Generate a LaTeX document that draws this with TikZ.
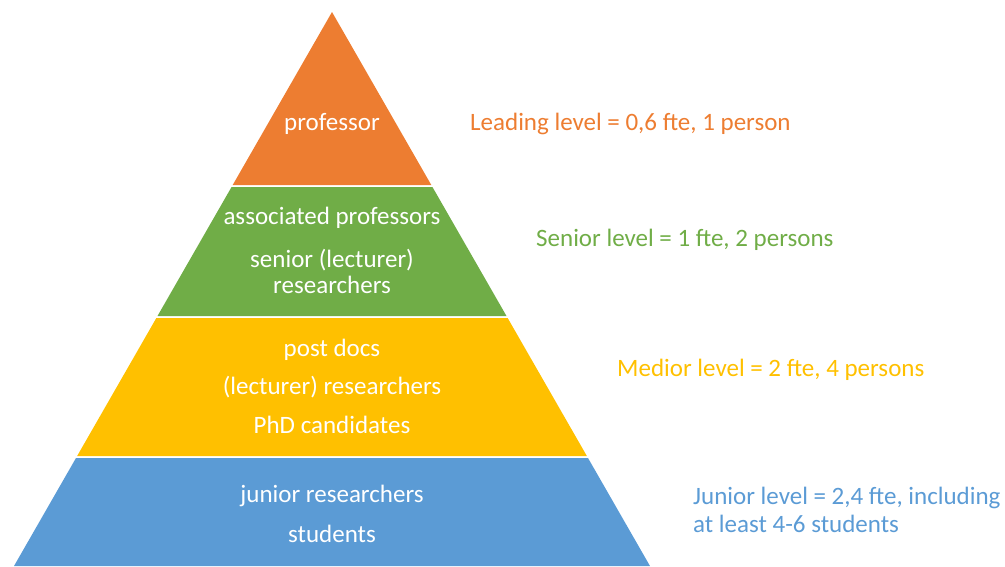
\documentclass[tikz,border=0pt]{standalone}
\usepackage{fontspec}
\setmainfont{Carlito}
\usepackage{tikz}
\usetikzlibrary{calc}
\definecolor{leadcol}{HTML}{ED7D31}
\definecolor{seniorcol}{HTML}{70AD47}
\definecolor{mediorcol}{HTML}{FFC000}
\definecolor{juniorcol}{HTML}{5B9BD5}
\tikzset{bandtext/.style={text=white, font=\fontsize{25}{26}\selectfont, align=center, inner sep=0pt}}
\tikzset{leveltext/.style={font=\fontsize{25}{28}\selectfont, align=left, anchor=west, inner sep=0pt}}

\begin{document}
\begin{tikzpicture}[x=1pt,y=-1pt]
  \useasboundingbox (0,0) rectangle (1005,566);
  % bands of the pyramid, apex at (332,12)
  \foreach \top/\bot/\col in {
    12/185/leadcol,
    187/316/seniorcol,
    318/456/mediorcol,
    458/566/juniorcol%
  } {
    \fill[\col] ({332-(\top-12)*0.574},\top) -- ({332+(\top-12)*0.574},\top)
      -- ({332+(\bot-12)*0.574},\bot) -- ({332-(\bot-12)*0.574},\bot) -- cycle;
  }
  % texts inside the bands
  \node[bandtext] (prof) at (332,124) {professor};
  \node[bandtext] (assoc) at (332,218) {associated professors};
  \node[bandtext] (senres) at (332,271) {senior (lecturer)\\researchers};
  \node[bandtext] (postdoc) at (332,350) {post docs};
  \node[bandtext] (lectres) at (332,387) {(lecturer) researchers};
  \node[bandtext] (phd) at (332,425) {PhD candidates};
  \node[bandtext] (junres) at (332,496) {junior researchers};
  \node[bandtext] (stud) at (332,534) {students};
  % level descriptions
  \node[leveltext, text=leadcol] (lead) at (470,124) {Leading level = 0,6 fte, 1 person};
  \node[leveltext, text=seniorcol] (senior) at (536,240) {Senior level = 1 fte, 2 persons};
  \node[leveltext, text=mediorcol] (medior) at (617,370) {Medior level = 2 fte, 4 persons};
  \node[leveltext, text=juniorcol] (junior) at (693,510) {Junior level = 2,4 fte, including\\at least 4-6 students};
\end{tikzpicture}
\end{document}
